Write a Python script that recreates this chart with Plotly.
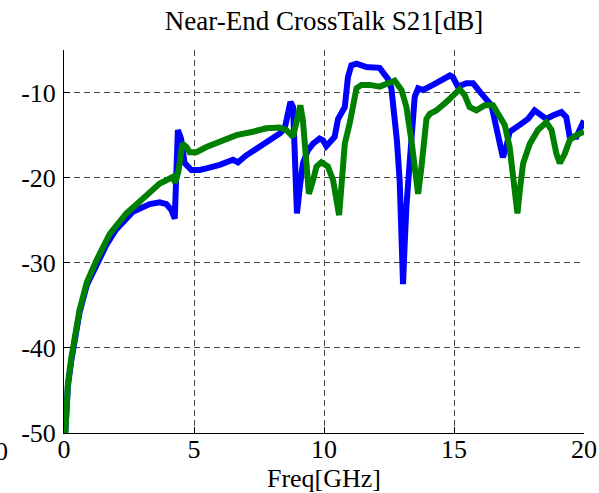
import plotly.graph_objects as go

# Near-end crosstalk S21 (dB) versus frequency (GHz), two traces
freq_blue = [0.05, 0.1, 0.15, 0.28, 0.41, 0.6, 0.88, 1.25, 1.63, 2.0, 2.65, 3.3, 3.68,
             3.94, 4.13, 4.26, 4.38, 4.5, 4.64, 4.9, 5.22, 5.48, 5.99, 6.5, 6.69, 7.0,
             7.53, 8.04, 8.3, 8.49, 8.62, 8.71, 8.81, 8.87, 8.96, 9.07, 9.19, 9.38, 9.58,
             9.83, 9.96, 10.09, 10.22, 10.41, 10.54, 10.67, 10.8, 10.92, 11.05, 11.25,
             11.63, 12.14, 12.33, 12.46, 12.59, 12.7, 12.8, 12.91, 12.98, 13.04, 13.1,
             13.17, 13.36, 13.49, 13.62, 13.81, 14.19, 14.45, 14.84, 14.96, 15.15, 15.48,
             15.73, 15.99, 16.25, 16.44, 16.57, 16.76, 16.88, 17.01, 17.14, 17.53, 17.85,
             18.1, 18.3, 18.55, 18.8, 19.13, 19.32, 19.45, 19.71, 19.9, 20.0]
s21_blue = [-50.0, -46.5, -44.5, -41.5, -38.7, -35.8, -32.6, -30.1, -27.9, -26.1, -24.0,
            -23.1, -22.9, -23.1, -23.8, -24.8, -14.4, -15.4, -18.3, -19.1, -19.1, -18.9,
            -18.5, -17.9, -18.2, -17.4, -16.4, -15.4, -14.8, -14.2, -12.1, -11.1, -11.7,
            -15.6, -24.2, -21.1, -18.3, -16.8, -16.0, -15.4, -15.6, -16.3, -15.8, -15.2,
            -13.1, -12.3, -11.7, -8.2, -6.8, -6.6, -7.0, -7.1, -7.8, -8.4, -9.5, -12.5,
            -15.5, -20.3, -26.0, -32.5, -28.0, -23.4, -15.6, -10.5, -9.5, -9.7, -9.1,
            -8.6, -8.0, -8.2, -9.3, -8.9, -8.9, -9.9, -10.9, -11.5, -13.3, -16.4, -17.6,
            -16.4, -14.6, -13.8, -13.1, -12.1, -12.5, -13.1, -12.7, -12.3, -12.9, -15.2,
            -15.2, -14.0, -13.3]

freq_green = [0.05, 0.1, 0.15, 0.28, 0.41, 0.6, 0.88, 1.25, 1.76, 2.4, 3.17, 3.68, 3.94,
              4.19, 4.27, 4.4, 4.55, 4.71, 4.83, 5.09, 5.48, 5.99, 6.63, 7.27, 7.78, 8.3,
              8.55, 8.81, 9.0, 9.09, 9.19, 9.32, 9.42, 9.58, 9.71, 9.9, 10.15, 10.35,
              10.48, 10.58, 10.71, 10.8, 10.99, 11.12, 11.25, 11.44, 11.76, 12.14, 12.53,
              12.72, 12.98, 13.17, 13.36, 13.53, 13.62, 13.75, 13.94, 14.07, 14.32, 14.71,
              15.03, 15.22, 15.41, 15.6, 15.86, 16.18, 16.5, 16.76, 16.95, 17.14, 17.27,
              17.4, 17.44, 17.53, 17.66, 17.92, 18.23, 18.55, 18.75, 18.94, 19.07, 19.26,
              19.45, 19.71, 20.0]
s21_green = [-50.0, -46.0, -44.2, -41.2, -38.4, -35.5, -32.3, -29.7, -26.6, -24.2, -22.1,
             -20.7, -20.3, -19.9, -20.6, -19.3, -16.0, -16.4, -17.0, -17.0, -16.4, -15.8,
             -15.0, -14.6, -14.2, -14.1, -14.4, -15.2, -12.5, -11.5, -13.3, -17.6, -21.9,
             -20.3, -18.7, -18.2, -18.7, -20.3, -22.3, -24.4, -19.5, -16.0, -13.6, -11.7,
             -9.5, -9.1, -9.1, -9.3, -8.8, -8.6, -9.7, -11.7, -15.6, -20.3, -21.9, -18.7,
             -13.1, -12.5, -12.1, -11.1, -10.1, -9.6, -10.3, -11.7, -12.1, -11.5, -11.5,
             -12.7, -13.8, -16.4, -19.5, -23.0, -24.2, -21.5, -18.3, -16.0, -14.4, -13.5,
             -14.4, -17.2, -18.3, -17.2, -15.6, -15.0, -14.6]

x_ticks = [0, 5, 10, 15, 20]
y_ticks = [-50, -40, -30, -20, -10]

serif = "Liberation Serif, Times New Roman, serif"

fig = go.Figure()
fig.add_trace(go.Scatter(x=freq_blue, y=s21_blue, mode="lines",
                         line=dict(color="#0000ff", width=6)))
fig.add_trace(go.Scatter(x=freq_green, y=s21_green, mode="lines",
                         line=dict(color="#008000", width=6)))

axis_common = dict(
    automargin=False,
    showline=True, linecolor="black", linewidth=1,
    ticks="inside", ticklen=6, tickcolor="black",
    showgrid=True, gridcolor="#444444", gridwidth=1, griddash="6px,4px",
    zeroline=False, tickfont=dict(family=serif, size=26, color="black"),
)

fig.update_xaxes(range=[0, 20], tickvals=x_ticks, ticktext=[str(v) for v in x_ticks],
                 title=dict(text="Freq[GHz]", font=dict(family=serif, size=26, color="black"),
                            standoff=0),
                 ticklabelstandoff=-7, **axis_common)
fig.update_yaxes(range=[-50, -5], tickvals=y_ticks, ticktext=[str(v) for v in y_ticks],
                 ticklabelstandoff=2, **axis_common)

# stray tick label at the far left edge
fig.add_annotation(text="0", xref="paper", yref="paper", x=-0.12, y=-0.048,
                   xanchor="center", yanchor="middle", showarrow=False,
                   font=dict(family=serif, size=26, color="black"))

fig.update_layout(
    width=599, height=493,
    margin=dict(l=64, r=15, t=50, b=60, autoexpand=False),
    paper_bgcolor="white", plot_bgcolor="white",
    showlegend=False,
    title=dict(text="Near-End CrossTalk S21[dB]", x=0.5, xref="paper",
               y=1 - 21 / 493, yref="container", yanchor="middle",
               font=dict(family=serif, size=27, color="black")),
)

fig.write_html("out.html")
